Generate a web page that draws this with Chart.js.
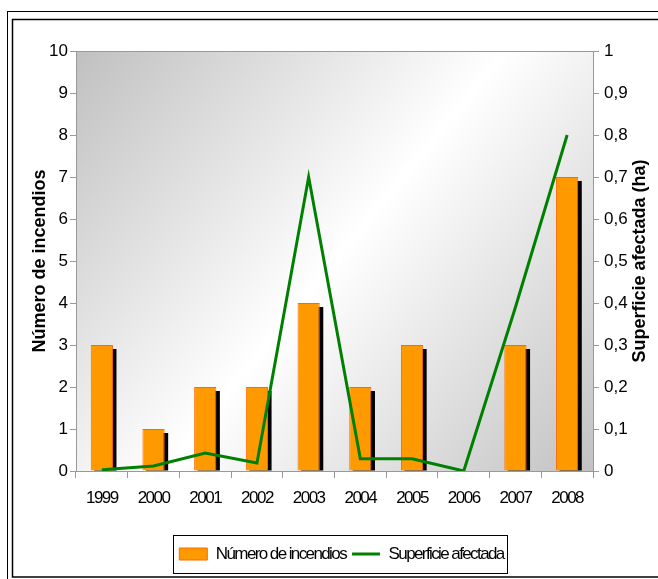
<!DOCTYPE html>
<html lang="es">
<head>
  <meta charset="UTF-8" />
  <title>Incendios</title>
  <script src="https://cdn.jsdelivr.net/npm/chart.js@4.4.1/dist/chart.umd.min.js"></script>
  <style>
    html, body { margin: 0; padding: 0; background: #fff; }
    #wrap { width: 658px; height: 579px; position: relative; }
  </style>
</head>
<body>
  <div id="wrap"><canvas id="chart"></canvas></div>

  <script>
    const years = ['1999', '2000', '2001', '2002', '2003', '2004', '2005', '2006', '2007', '2008'];
    const incendios = [3, 1, 2, 2, 4, 2, 3, 0, 3, 7];
    const superficie = [0.003, 0.012, 0.043, 0.019, 0.70, 0.029, 0.029, 0, 0.39, 0.80];

    Chart.defaults.font.family = "'Liberation Sans', Arial, sans-serif";
    Chart.defaults.color = '#000';

    // texto "comprimido" como el de Excel
    function squeeze(obj, fn, spacing) {
      if (!obj || obj['_sq_' + fn]) return;
      const orig = obj[fn];
      obj[fn] = function (...args) {
        const c = this.ctx;
        c.save();
        c.letterSpacing = spacing;
        const r = orig.apply(this, args);
        c.restore();
        return r;
      };
      obj['_sq_' + fn] = true;
    }

    const decor = {
      id: 'decor',
      beforeLayout(chart) {
        chart.ctx.letterSpacing = '-1.6px';
      },
      afterLayout(chart) {
        chart.ctx.letterSpacing = '0px';
        squeeze(chart.legend, 'draw', '-1.6px');
        squeeze(chart.scales.x, 'drawLabels', '-1.5px');
      },
      beforeDraw(chart) {
        const { ctx, chartArea: a } = chart;
        ctx.save();
        // doble marco exterior
        ctx.strokeStyle = '#000';
        ctx.lineWidth = 1;
        ctx.strokeRect(7.5, 11.5, 700, 600);
        ctx.lineWidth = 1.5;
        ctx.strokeRect(12.5, 19.5, 700, 557.5);
        const g = ctx.createLinearGradient(a.left, a.top, a.right, a.bottom);
        g.addColorStop(0, '#c0c0c0');
        g.addColorStop(0.5, '#ffffff');
        g.addColorStop(1, '#c2c2c2');
        ctx.fillStyle = g;
        ctx.fillRect(a.left, a.top, a.right - a.left, a.bottom - a.top);
        ctx.strokeStyle = '#999';
        ctx.lineWidth = 1;
        ctx.beginPath();
        ctx.moveTo(a.left, a.top + 0.5);
        ctx.lineTo(a.right, a.top + 0.5);
        ctx.stroke();
        ctx.restore();
      },
      beforeDatasetDraw(chart, args) {
        if (args.index !== 0) return;
        // sombra negra de las barras
        const { ctx, chartArea: a } = chart;
        const meta = chart.getDatasetMeta(0);
        ctx.save();
        ctx.beginPath();
        ctx.rect(a.left, a.top, a.right - a.left, a.bottom - a.top);
        ctx.clip();
        ctx.fillStyle = '#000';
        meta.data.forEach(b => {
          const { x, y, base, width } = b.getProps(['x', 'y', 'base', 'width'], true);
          if (base - y > 4) ctx.fillRect(x - width / 2 + 3.5, y + 4, width, base - y - 4);
        });
        ctx.restore();
      },
      afterDraw(chart) {
        const { ctx, chartArea: a, legend } = chart;
        ctx.save();
        // titulo eje derecho (de abajo hacia arriba)
        ctx.translate(640, (a.top + a.bottom) / 2);
        ctx.rotate(-Math.PI / 2);
        ctx.font = "bold 18px 'Liberation Sans', Arial, sans-serif";
        ctx.fillStyle = '#000';
        ctx.textAlign = 'center';
        ctx.textBaseline = 'middle';
        ctx.fillText('Superficie afectada (ha)', 0, 0);
        ctx.restore();

        // recuadro de la leyenda
        const hb = legend.legendHitBoxes;
        if (hb && hb.length) {
          const last = hb[hb.length - 1];
          const x0 = Math.round(hb[0].left - 6) + 0.5;
          const x1 = Math.round(last.left + last.width + 3) + 0.5;
          const cy = hb[0].top + hb[0].height / 2;
          ctx.save();
          ctx.strokeStyle = '#000';
          ctx.lineWidth = 1;
          ctx.strokeRect(x0, Math.round(cy - 19) + 0.5, x1 - x0, 38);
          ctx.restore();
        }
      }
    };

    const baseLabels = Chart.defaults.plugins.legend.labels.generateLabels;

    new Chart(document.getElementById('chart'), {
      type: 'bar',
      data: {
        labels: years,
        datasets: [
          {
            type: 'bar',
            label: 'Número de incendios',
            data: incendios,
            backgroundColor: '#ff9900',
            borderColor: '#ff6a00',
            borderWidth: 1,
            categoryPercentage: 1,
            barPercentage: 0.43,
            yAxisID: 'y',
            order: 1
          },
          {
            type: 'line',
            label: 'Superficie afectada',
            data: superficie,
            borderColor: '#008000',
            backgroundColor: '#008000',
            borderWidth: 3,
            pointRadius: 0,
            tension: 0,
            fill: false,
            yAxisID: 'y2',
            order: 0
          }
        ]
      },
      options: {
        responsive: true,
        maintainAspectRatio: false,
        animation: false,
        layout: { padding: { left: 25, right: 0, top: 51, bottom: 6.5 } },
        scales: {
          x: {
            offset: true,
            grid: { offset: true, drawOnChartArea: false, tickLength: 7, color: '#999' },
            border: { color: '#999' },
            ticks: { font: { size: 17 }, padding: 10, maxRotation: 0 },
            afterFit(s) { s.height = 68.5; }
          },
          y: {
            position: 'left',
            min: 0,
            max: 10,
            ticks: { stepSize: 1, font: { size: 17 }, padding: 2 },
            grid: { drawOnChartArea: false, tickLength: 6, color: '#999' },
            border: { color: '#999' },
            title: {
              display: true,
              text: 'Número de incendios',
              font: { size: 18, weight: 'bold' },
              padding: { top: 4, bottom: 4 }
            },
            afterFit(s) { s.width = 51; }
          },
          y2: {
            position: 'right',
            min: 0,
            max: 1,
            ticks: {
              stepSize: 0.1,
              font: { size: 17 },
              padding: 5,
              callback: v => String(Math.round(v * 10) / 10).replace('.', ',')
            },
            grid: { drawOnChartArea: false, tickLength: 6, color: '#999' },
            border: { color: '#999' },
            afterFit(s) { s.width = 65; }
          }
        },
        plugins: {
          legend: {
            position: 'bottom',
            labels: {
              font: { size: 17 },
              color: '#000',
              usePointStyle: true,
              pointStyleWidth: 28,
              boxWidth: 28,
              boxHeight: 12,
              padding: 6,
              sort: (p, q) => p.datasetIndex - q.datasetIndex,
              generateLabels(chart) {
                return baseLabels(chart).map(item => {
                  item.pointStyle = item.datasetIndex === 0 ? 'rect' : 'line';
                  return item;
                });
              }
            }
          },
          tooltip: { enabled: false }
        }
      },
      plugins: [decor]
    });
  </script>
</body>
</html>
